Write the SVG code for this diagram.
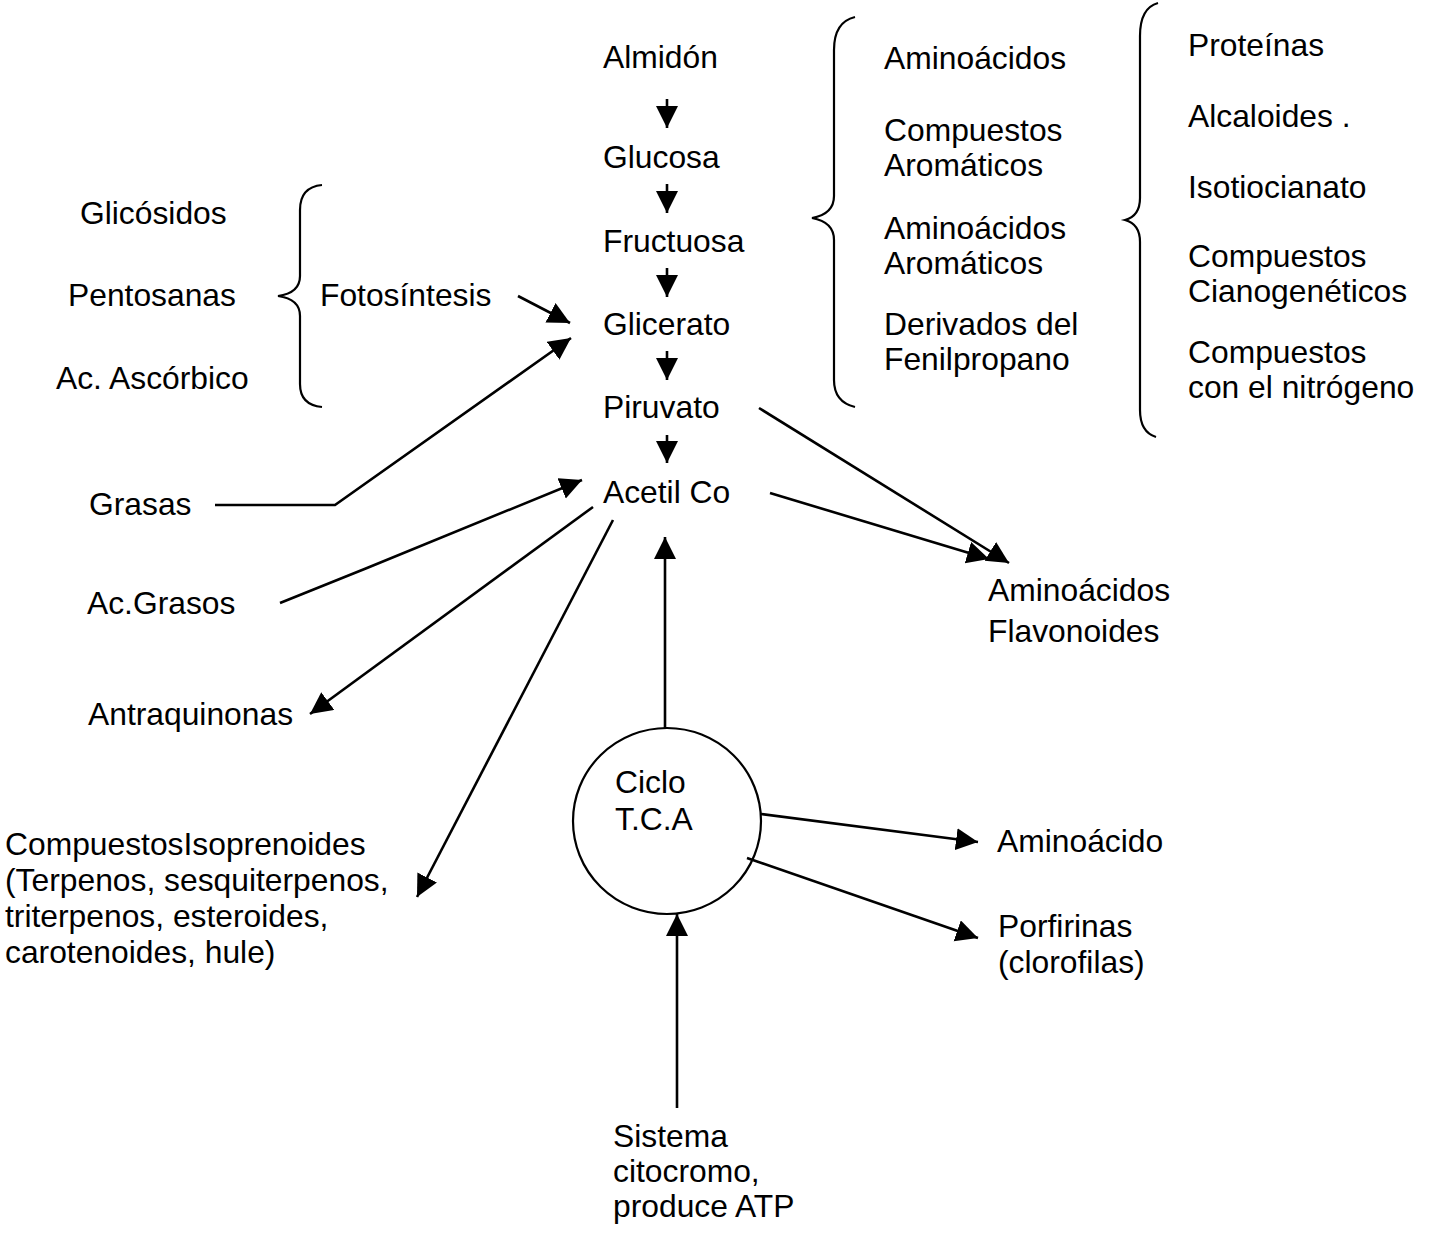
<svg xmlns="http://www.w3.org/2000/svg" width="1431" height="1237" viewBox="0 0 1431 1237">
<defs>
<style>
text{font-family:"Liberation Sans",Arial,sans-serif;font-size:31.8px;fill:#000}
.ln{stroke:#000;stroke-width:2.6;fill:none}
.br{stroke:#000;stroke-width:2.2;fill:none}
</style>
<marker id="ah" markerUnits="userSpaceOnUse" markerWidth="24" markerHeight="24" refX="22" refY="11" orient="auto" viewBox="0 0 24 24">
<path d="M0,0 L22,11 L0,22 z" fill="#000"/>
</marker>
</defs>
<rect width="1431" height="1237" fill="#fff"/>
<g id="connectors">
<line class="ln" x1="667" y1="99" x2="667" y2="128" marker-end="url(#ah)"/>
<line class="ln" x1="667" y1="184" x2="667" y2="213" marker-end="url(#ah)"/>
<line class="ln" x1="667" y1="268" x2="667" y2="297" marker-end="url(#ah)"/>
<line class="ln" x1="667" y1="351" x2="667" y2="380" marker-end="url(#ah)"/>
<line class="ln" x1="667" y1="435" x2="667" y2="463" marker-end="url(#ah)"/>
<line class="ln" x1="518" y1="296" x2="570" y2="323" marker-end="url(#ah)"/>
<polyline class="ln" points="215,505 335,505 571,338" marker-end="url(#ah)"/>
<polyline class="ln" points="280,603 367,568 582,480" marker-end="url(#ah)"/>
<line class="ln" x1="593" y1="507" x2="310" y2="714" marker-end="url(#ah)"/>
<line class="ln" x1="613" y1="520" x2="417" y2="897" marker-end="url(#ah)"/>
<line class="ln" x1="759" y1="408" x2="1009" y2="563" marker-end="url(#ah)"/>
<line class="ln" x1="770" y1="493" x2="989" y2="559" marker-end="url(#ah)"/>
<line class="ln" x1="665" y1="729" x2="665" y2="537" marker-end="url(#ah)"/>
<line class="ln" x1="677" y1="1108" x2="677" y2="914" marker-end="url(#ah)"/>
<line class="ln" x1="761" y1="814" x2="978" y2="842" marker-end="url(#ah)"/>
<line class="ln" x1="747" y1="858" x2="978" y2="938" marker-end="url(#ah)"/>
</g>
<g id="brace-left"><path class="br" d="M322,185 Q300,187 300,210 L300,276 Q300,293 278,296 Q300,299 300,316 L300,384 Q300,405 322,407"/></g>
<g id="brace-mid"><path class="br" d="M855,17 Q834,22 834,50 L834,196 Q834,214 812,218 Q834,222 834,240 L834,380 Q834,402 855,407"/></g>
<g id="brace-right"><path class="br" d="M1158,3 Q1140,8 1140,36 L1140,198 Q1140,216 1125,220 Q1140,224 1140,242 L1140,410 Q1140,432 1156,437"/></g>
<g id="n-almidon"><text x="603" y="68">Almidón</text></g>
<g id="n-glucosa"><text x="603" y="168">Glucosa</text></g>
<g id="n-fructuosa"><text x="603" y="252">Fructuosa</text></g>
<g id="n-glicerato"><text x="603" y="335">Glicerato</text></g>
<g id="n-piruvato"><text x="603" y="418">Piruvato</text></g>
<g id="n-acetil"><text x="603" y="503">Acetil Co</text></g>
<g id="n-glicosidos"><text x="80" y="224">Glicósidos</text></g>
<g id="n-pentosanas"><text x="68" y="306">Pentosanas</text></g>
<g id="n-ascorbico"><text x="56" y="389">Ac. Ascórbico</text></g>
<g id="n-fotosintesis"><text x="320" y="306">Fotosíntesis</text></g>
<g id="n-grasas"><text x="89" y="515">Grasas</text></g>
<g id="n-acgrasos"><text x="87" y="614">Ac.Grasos</text></g>
<g id="n-antraquinonas"><text x="88" y="725">Antraquinonas</text></g>
<g id="n-isoprenoides"><text x="5" y="855">CompuestosIsoprenoides</text><text x="5" y="891">(Terpenos, sesquiterpenos,</text><text x="5" y="927">triterpenos, esteroides,</text><text x="5" y="963">carotenoides, hule)</text></g>
<g id="n-col1"><text x="884" y="69">Aminoácidos</text><text x="884" y="141">Compuestos</text><text x="884" y="176">Aromáticos</text><text x="884" y="239">Aminoácidos</text><text x="884" y="274">Aromáticos</text><text x="884" y="335">Derivados del</text><text x="884" y="370">Fenilpropano</text></g>
<g id="n-col2"><text x="1188" y="56">Proteínas</text><text x="1188" y="127">Alcaloides .</text><text x="1188" y="198">Isotiocianato</text><text x="1188" y="267">Compuestos</text><text x="1188" y="302">Cianogenéticos</text><text x="1188" y="363">Compuestos</text><text x="1188" y="398">con el nitrógeno</text></g>
<g id="n-flavonoides"><text x="988" y="601">Aminoácidos</text><text x="988" y="642">Flavonoides</text></g>
<g id="n-tca"><ellipse cx="667" cy="821" rx="94" ry="93" class="br"/><text x="615" y="793">Ciclo</text><text x="615" y="830">T.C.A</text></g>
<g id="n-aminoacido"><text x="997" y="852">Aminoácido</text></g>
<g id="n-porfirinas"><text x="998" y="937">Porfirinas</text><text x="998" y="973">(clorofilas)</text></g>
<g id="n-sistema"><text x="613" y="1147">Sistema</text><text x="613" y="1182">citocromo,</text><text x="613" y="1217">produce ATP</text></g>
</svg>
